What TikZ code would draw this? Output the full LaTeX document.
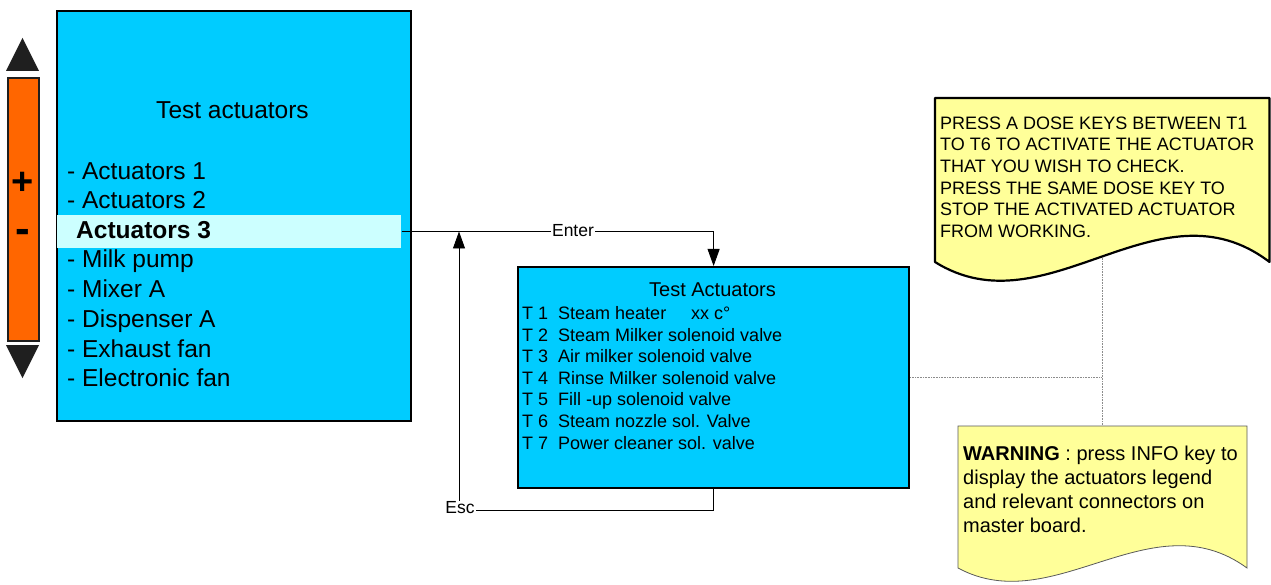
\documentclass[tikz,border=0pt]{standalone}
\usepackage{fontspec}
\setmainfont{Liberation Sans}
\usetikzlibrary{arrows.meta}
\definecolor{boxblue}{HTML}{00CCFF}
\definecolor{hlcyan}{HTML}{CCFFFF}
\definecolor{barorange}{HTML}{FF6600}
\definecolor{noteyellow}{HTML}{FFFF99}
\definecolor{darktri}{HTML}{1F1F1F}
\tikzset{
  screenbox/.style={draw=black, line width=2.2pt, fill=boxblue, anchor=north west, inner sep=0pt},
  menuitem/.style={anchor=base west, inner sep=0pt, font=\fontsize{24.5}{29}\selectfont},
  subitem/.style={anchor=base west, inner sep=0pt, font=\fontsize{18}{21.6}\selectfont},
  flow/.style={draw=black, line width=0.9pt, -{Triangle[length=17pt,width=12pt]}},
  flowlabel/.style={fill=white, inner sep=1pt, font=\fontsize{17.5}{20}\selectfont},
  helpline/.style={draw=black!45, line width=0.6pt, densely dotted},
  notetext/.style={anchor=north west, inner sep=0pt, align=left}
}
\begin{document}
\begin{tikzpicture}[x=1pt,y=-1pt]
\useasboundingbox (0,0) rectangle (1271,585);

% scroll bar
\fill[darktri] (6,71) -- (22.5,38) -- (39,71) -- cycle;
\fill[darktri] (6,345) -- (22.5,378) -- (39,345) -- cycle;
\node[draw=darktri, line width=2pt, fill=barorange, anchor=north west,
      minimum width=31pt, minimum height=263pt, inner sep=0pt] (bar) at (7,77) {};
\node[font=\fontsize{38}{38}\bfseries\selectfont, inner sep=0pt, anchor=base] (plus) at (22.5,195) {+};
\node[font=\fontsize{44}{44}\bfseries\selectfont, inner sep=0pt, anchor=base] (minus) at (22.5,244) {-};

% main menu screen
\node[screenbox, minimum width=354pt, minimum height=410pt] (menu) at (56,10) {};
\node[fill=hlcyan, anchor=north west, minimum width=344pt, minimum height=33pt, inner sep=0pt] (hl) at (57.2,215) {};
\node[anchor=base, inner sep=0pt, font=\fontsize{24.5}{29}\selectfont] (menutitle) at (232.5,119) {Test actuators};
\node[menuitem] (m1) at (67,180) {- Actuators 1};
\node[menuitem] (m2) at (67,209) {- Actuators 2};
\node[menuitem, font=\fontsize{24.5}{29}\bfseries\selectfont] (m3) at (76,239) {Actuators 3};
\node[menuitem] (m4) at (67,268) {- Milk pump};
\node[menuitem] (m5) at (67,298) {- Mixer A};
\node[menuitem] (m6) at (67,327) {- Dispenser A};
\node[menuitem] (m7) at (67,357) {- Exhaust fan};
\node[menuitem] (m8) at (67,386) {- Electronic fan};

% help lines (behind notes)
\coordinate (junc) at (1102,377);
\coordinate (n1b) at (1102,245);
\coordinate (n2t) at (1102,426);
\draw[helpline] (n1b) -- (n2t);

% sub screen
\node[screenbox, minimum width=391pt, minimum height=221pt] (sub) at (517,266) {};
\node[anchor=base, inner sep=0pt, font=\fontsize{20}{24}\selectfont] (subtitle) at (712.5,297) {Test Actuators};
\foreach \n/\t/\y in {1/Steam heater/319.3, 2/Steam Milker solenoid valve/341,
    3/Air milker solenoid valve/362.5, 4/Rinse Milker solenoid valve/384.2,
    5/Fill -up solenoid valve/405.8, 6/Steam nozzle sol. Valve/427.4,
    7/Power cleaner sol. valve/449}{
  \node[subitem] (t\n) at (522,\y) {T \n};
  \node[subitem] (d\n) at (558,\y) {\t};
}
\node[subitem] (temp) at (691,319.3) {xx c°};

\draw[helpline] (sub.east) -- (sub.east -| junc);

% flow connectors
\draw[flow] (hl.east) -| (sub.north);
\node[flowlabel] (enter) at (573,231) {Enter};
\coordinate (escc) at (459,510);
\coordinate (esct) at (459,231.5);
\draw[flow] (sub.south) |- (escc) -- (esct);
\node[flowlabel] (esc) at (460,508) {Esc};

% note 1
\filldraw[fill=noteyellow, draw=black, line width=2.2pt, line join=round]
  (935,98) -- (1269.5,98) -- (1269.5,262) .. controls (1158,177) and (1047,332) .. (935,262) -- cycle;
\node[notetext, font=\fontsize{18}{21.7}\selectfont] (note1) at (940,116.4)
  {PRESS A DOSE KEYS BETWEEN T1\\TO T6 TO ACTIVATE THE ACTUATOR\\THAT YOU WISH TO CHECK.\\PRESS THE SAME DOSE KEY TO\\STOP THE ACTIVATED ACTUATOR\\FROM WORKING.};

% note 2
\filldraw[fill=noteyellow, draw=black!65, line width=0.8pt]
  (958,426) -- (1247,426) -- (1247,568) .. controls (1151,498) and (1054,620) .. (958,568) -- cycle;
\node[notetext, font=\fontsize{20}{23.9}\selectfont] (note2) at (963,445.7)
  {\textbf{WARNING} : press INFO key to\\display the actuators legend\\and relevant connectors on\\master board.};
\end{tikzpicture}
\end{document}
